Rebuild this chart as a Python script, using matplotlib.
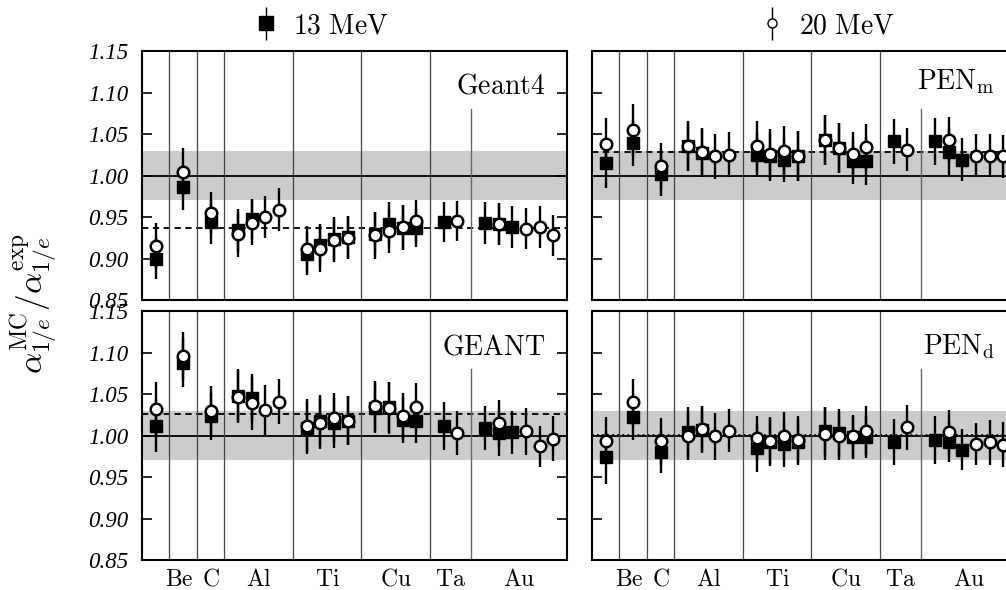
import numpy as np
import matplotlib
matplotlib.use('Agg')
import matplotlib.pyplot as plt
from matplotlib.container import ErrorbarContainer
from matplotlib.legend_handler import HandlerErrorbar

plt.rcParams['mathtext.fontset'] = 'cm'

# x positions of the measurements (13 MeV squares, 20 MeV circles)
sq_x = [1, 3, 5, 7, 8, 12, 13, 14, 15, 17, 18, 19, 20, 22, 25, 26, 27]
ci_x = [1, 3, 5, 7, 8, 9, 10, 12, 13, 14, 15, 17, 18, 19, 20, 23, 26, 28, 29, 30]

elements = ['Be', 'C', 'Al', 'Ti', 'Cu', 'Ta', 'Au']
element_pos = [2.7, 5, 8.5, 13.5, 18.5, 22.5, 27.5]
separators = [2, 4, 6, 11, 16, 21]

# Geant4
g4_sq = [0.900, 0.986, 0.944, 0.934, 0.948, 0.906, 0.916, 0.924, 0.926, 0.930, 0.942, 0.937, 0.937, 0.944, 0.943, 0.941, 0.938]
g4_sq_err = [0.025, 0.027, 0.026, 0.026, 0.024, 0.026, 0.026, 0.026, 0.025, 0.026, 0.026, 0.027, 0.023, 0.024, 0.025, 0.025, 0.025]
g4_ci = [0.915, 1.004, 0.955, 0.929, 0.943, 0.950, 0.959, 0.911, 0.912, 0.922, 0.925, 0.928, 0.933, 0.938, 0.945, 0.945, 0.942, 0.936, 0.938, 0.928]
g4_ci_err = [0.028, 0.029, 0.025, 0.027, 0.027, 0.025, 0.026, 0.028, 0.028, 0.026, 0.026, 0.028, 0.026, 0.027, 0.025, 0.024, 0.025, 0.025, 0.025, 0.025]

# PEN_m
pm_sq = [1.015, 1.039, 1.002, 1.036, 1.027, 1.025, 1.023, 1.019, 1.024, 1.043, 1.033, 1.017, 1.018, 1.041, 1.041, 1.028, 1.019]
pm_sq_err = [0.030, 0.028, 0.027, 0.030, 0.029, 0.027, 0.030, 0.027, 0.030, 0.030, 0.030, 0.027, 0.029, 0.027, 0.028, 0.029, 0.026]
pm_ci = [1.038, 1.055, 1.011, 1.036, 1.028, 1.023, 1.025, 1.035, 1.026, 1.030, 1.024, 1.043, 1.033, 1.026, 1.034, 1.031, 1.043, 1.024, 1.024, 1.023]
pm_ci_err = [0.031, 0.031, 0.028, 0.030, 0.029, 0.027, 0.027, 0.031, 0.030, 0.030, 0.030, 0.030, 0.030, 0.027, 0.028, 0.026, 0.027, 0.026, 0.026, 0.026]

# GEANT
gt_sq = [1.012, 1.088, 1.023, 1.048, 1.045, 1.009, 1.018, 1.015, 1.018, 1.033, 1.034, 1.019, 1.017, 1.012, 1.009, 1.003, 1.004]
gt_sq_err = [0.032, 0.030, 0.028, 0.032, 0.029, 0.031, 0.031, 0.030, 0.030, 0.030, 0.031, 0.028, 0.026, 0.029, 0.027, 0.028, 0.026]
gt_ci = [1.032, 1.096, 1.030, 1.047, 1.039, 1.031, 1.041, 1.012, 1.015, 1.021, 1.018, 1.036, 1.033, 1.023, 1.034, 1.003, 1.015, 1.005, 0.987, 0.996]
gt_ci_err = [0.033, 0.029, 0.030, 0.032, 0.032, 0.030, 0.027, 0.032, 0.031, 0.030, 0.030, 0.030, 0.031, 0.028, 0.029, 0.027, 0.028, 0.028, 0.025, 0.027]

# PEN_d
pd_sq = [0.974, 1.022, 0.980, 1.004, 1.007, 0.985, 0.992, 0.990, 0.992, 1.005, 1.003, 0.998, 0.998, 0.992, 0.995, 0.992, 0.983]
pd_sq_err = [0.032, 0.027, 0.025, 0.030, 0.028, 0.029, 0.029, 0.028, 0.028, 0.029, 0.029, 0.026, 0.025, 0.028, 0.029, 0.024, 0.025]
pd_ci = [0.994, 1.040, 0.993, 1.000, 1.008, 0.999, 1.006, 0.997, 0.993, 0.999, 0.995, 1.002, 0.999, 0.999, 1.006, 1.010, 1.004, 0.990, 0.992, 0.989]
pd_ci_err = [0.028, 0.028, 0.028, 0.030, 0.028, 0.028, 0.026, 0.027, 0.029, 0.029, 0.028, 0.032, 0.029, 0.026, 0.029, 0.027, 0.027, 0.025, 0.027, 0.027]

panels = [
    # name, sq, sq_err, ci, ci_err, mean line, line style, axes rect, label baseline
    (r'$\mathrm{Geant4}$', g4_sq, g4_sq_err, g4_ci, g4_ci_err, 0.937, (0, (3.5, 2.5)), [0.1412, 0.4915, 0.4225, 0.422], 0.830),
    (r'$\mathrm{PEN_m}$', pm_sq, pm_sq_err, pm_ci, pm_ci_err, 1.028, (0, (3.5, 2.5)), [0.5885, 0.4915, 0.4225, 0.422], 0.846),
    (r'$\mathrm{GEANT}$', gt_sq, gt_sq_err, gt_ci, gt_ci_err, 1.026, (0, (3.5, 2.5)), [0.1412, 0.0508, 0.4225, 0.422], 0.825),
    (r'$\mathrm{PEN_d}$', pd_sq, pd_sq_err, pd_ci, pd_ci_err, 1.001, (0, (1, 1.8)), [0.5885, 0.0508, 0.4225, 0.422], 0.827),
]

fig = plt.figure(figsize=(10.06, 5.9), dpi=100)

for i, (name, sq, sqe, ci, cie, mean, ls, rect, lab_y) in enumerate(panels):
    ax = fig.add_axes(rect)
    ax.set_xlim(0, 31)
    ax.set_ylim(0.85, 1.15)
    ax.axhspan(0.97, 1.03, color='#cccccc', lw=0, zorder=0)
    ax.axhline(1.0, color='black', lw=1.3, zorder=1)
    ax.axhline(mean, color='black', lw=1.3, ls=ls, zorder=1)
    for s in separators:
        ax.axvline(s, color='#444444', lw=0.9, zorder=1)
    ax.axvline(24, ymax=(1.08 - 0.85) / 0.30, color='#666666', lw=1.0, zorder=1)

    ax.errorbar(sq_x, sq, yerr=sqe, fmt='s', color='black', ms=9, elinewidth=1.7,
                capsize=0, zorder=3)
    ax.errorbar(ci_x, ci, yerr=cie, fmt='o', color='black', mfc='white', mec='black',
                mew=1.8, ms=8.3, elinewidth=1.7, capsize=0, zorder=4)

    ax.text(0.948, lab_y, name, transform=ax.transAxes, ha='right', va='baseline',
            fontsize=20)

    ax.set_yticks(np.arange(0.85, 1.151, 0.05))
    ax.tick_params(axis='y', direction='in', length=7, width=1.2, left=True, right=True,
                   labelleft=(i % 2 == 0), pad=10)
    if i % 2 == 0:
        ax.set_yticklabels(['%.2f' % v for v in np.arange(0.85, 1.151, 0.05)],
                           fontfamily='Liberation Serif', fontstyle='italic', fontsize=16.5)
    if i >= 2:
        ax.set_xticks(element_pos)
        ax.set_xticklabels([r'$\mathrm{%s}$' % e for e in elements], fontsize=17)
        ax.tick_params(axis='x', length=0, pad=5)
    else:
        ax.set_xticks([])
    for sp in ax.spines.values():
        sp.set_linewidth(1.5)

fig.text(0.034, 1 - 304 / 590, r'$\alpha^{\mathrm{MC}}_{1/e}/\alpha^{\mathrm{exp}}_{1/e}$',
         rotation=90, ha='center', va='center', fontsize=24)

# legend keys
dummy = fig.add_axes([0, 0, 0.01, 0.01])
dummy.set_axis_off()
h13 = dummy.errorbar([], [], yerr=[], fmt='s', color='black', ms=9.5, elinewidth=1.0, capsize=0)
h20 = dummy.errorbar([], [], yerr=[], fmt='o', color='black', mfc='white', mec='black',
                     mew=1.0, ms=6.5, elinewidth=1.0, capsize=0)
hmap = {ErrorbarContainer: HandlerErrorbar(yerr_size=0.6)}
for h, lab, xpos in [(h13, r'$\mathrm{13\ MeV}$', 322 / 1006), (h20, r'$\mathrm{20\ MeV}$', 828 / 1006)]:
    fig.legend([h], [lab], loc='center', bbox_to_anchor=(xpos, 1 - 25 / 590), frameon=False,
               fontsize=20, handlelength=0.8, handletextpad=0.6, handler_map=hmap)

fig.savefig('out.png', dpi=100)
